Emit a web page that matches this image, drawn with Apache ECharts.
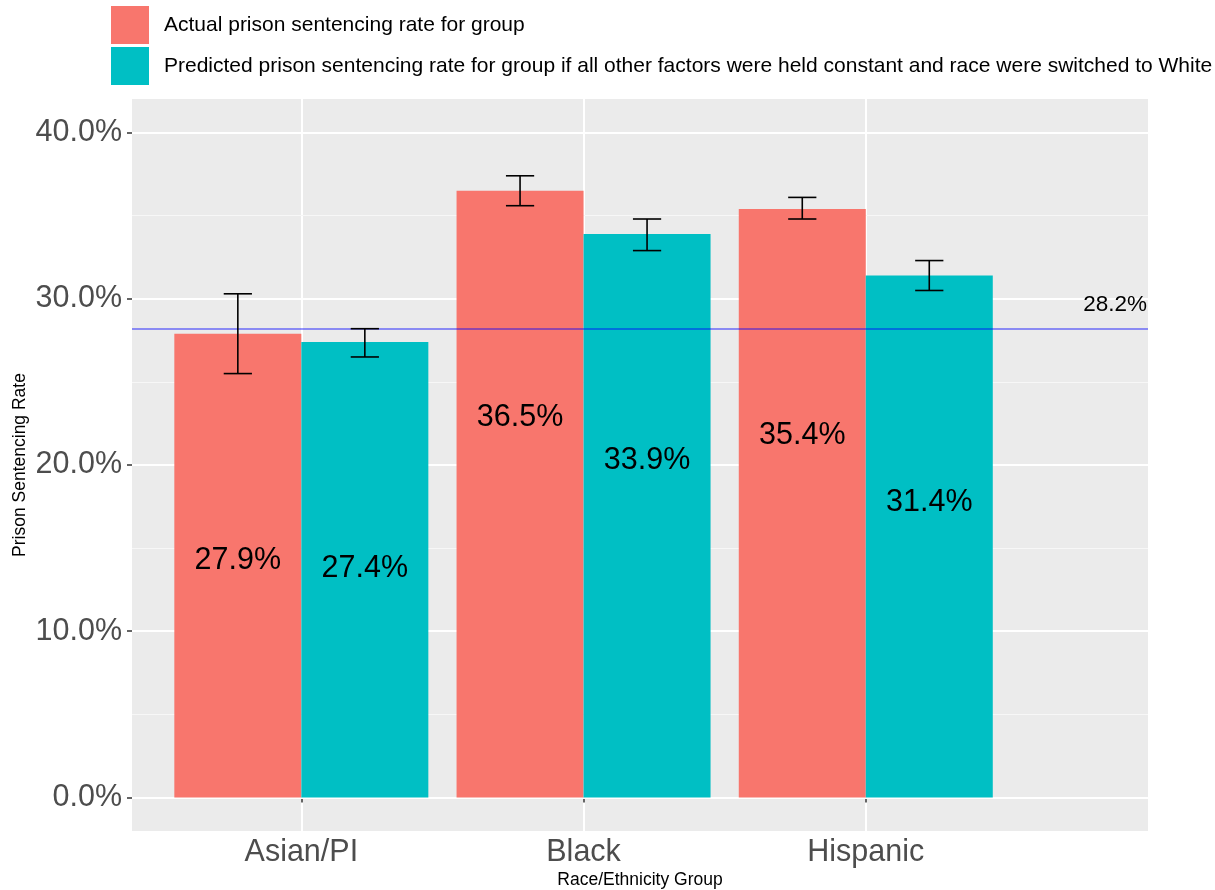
<!DOCTYPE html>
<html>
<head>
<meta charset="utf-8">
<title>Prison Sentencing Rate by Race/Ethnicity Group</title>
<script src="https://cdn.jsdelivr.net/npm/echarts@6/dist/echarts.min.js"></script>
<style>
  html, body { margin: 0; padding: 0; background: #ffffff; }
  #chart { width: 1215px; height: 890px; }
</style>
</head>
<body>
<div id="chart"></div>
<script>
// Groups on the horizontal axis
const CATEGORIES = ['Asian/PI', 'Black', 'Hispanic'];

// Series names (legend)
const SERIES_NAMES = [
  'Actual prison sentencing rate for group',
  'Predicted prison sentencing rate for group if all other factors were held constant and race were switched to White'
];

// Rates in percent
const ACTUAL = [27.9, 36.5, 35.4];
const PREDICTED = [27.4, 33.9, 31.4];

// Error bar bounds in percent
const ACTUAL_LOW = [25.5, 35.6, 34.8];
const ACTUAL_HIGH = [30.3, 37.4, 36.1];
const PREDICTED_LOW = [26.5, 32.9, 30.5];
const PREDICTED_HIGH = [28.2, 34.8, 32.3];

// Reference rate for White defendants
const WHITE_RATE = 28.2;

// Axis ticks
const Y_TICKS = [0, 10, 20, 30, 40];
const Y_MINOR = [5, 15, 25, 35];
const X_TICKS = [1, 2, 3];

// Layout / style constants
const COLORS = ['#F8766D', '#00BFC4'];
const GRID = { left: 132, top: 99, width: 1016, height: 732 };
const X_MIN = 0.4, X_MAX = 4.0;
const Y_MIN = -2.02, Y_MAX = 42.02;
const DODGE = 0.45;          // width of one bar, in x units
const WHISKER = 0.05;        // half whisker width, in x units
const LABEL_DROP = 13.65;    // value labels sit this far below the bar top
const PX_PER_UNIT = GRID.width / (X_MAX - X_MIN);
const BAR_W = Math.round(DODGE * PX_PER_UNIT);
const FONT = "'Liberation Sans', Arial, sans-serif";

const pct = v => v.toFixed(1) + '%';

// Error bar rows: [x position, low, high]; label rows: [x position, value]
const errorRows = [];
const labelRows = [];
CATEGORIES.forEach((c, i) => {
  const x = i + 1;
  errorRows.push([x - DODGE / 2, ACTUAL_LOW[i], ACTUAL_HIGH[i]]);
  errorRows.push([x + DODGE / 2, PREDICTED_LOW[i], PREDICTED_HIGH[i]]);
  labelRows.push([x - DODGE / 2, ACTUAL[i]]);
  labelRows.push([x + DODGE / 2, PREDICTED[i]]);
});

const chart = echarts.init(document.getElementById('chart'), null, { renderer: 'canvas' });

const option = {
  animation: false,
  backgroundColor: '#ffffff',
  textStyle: { fontFamily: FONT },
  legend: {
    orient: 'vertical',
    left: 111,
    top: 6,
    padding: 0,
    itemWidth: 38,
    itemHeight: 38,
    itemGap: 3,
    icon: 'rect',
    selectedMode: false,
    data: SERIES_NAMES,
    textStyle: { fontSize: 21, color: '#000000', fontFamily: FONT, padding: [3, 0, 0, 10] }
  },
  grid: {
    left: GRID.left, top: GRID.top, width: GRID.width, height: GRID.height,
    show: true, backgroundColor: '#EBEBEB', borderWidth: 0,
    containLabel: false, outerBoundsMode: 'none'
  },
  xAxis: {
    type: 'value',
    min: X_MIN,
    max: X_MAX,
    name: 'Race/Ethnicity Group',
    nameLocation: 'middle',
    nameGap: 40,
    nameMoveOverlap: false,
    nameTextStyle: { fontSize: 17.5, color: '#000000', fontFamily: FONT },
    axisLine: { show: false },
    axisTick: { show: true, length: 5, customValues: X_TICKS, lineStyle: { color: '#333333', width: 1.5 } },
    axisLabel: {
      customValues: X_TICKS,
      fontSize: 30.5, color: '#4D4D4D', margin: 6, fontFamily: FONT,
      formatter: v => CATEGORIES[Math.round(v) - 1]
    },
    splitLine: { show: true, lineStyle: { color: '#ffffff', width: 2 } }
  },
  yAxis: [
    {
      type: 'value',
      min: Y_MIN,
      max: Y_MAX,
      name: 'Prison Sentencing Rate',
      nameLocation: 'middle',
      nameGap: 103,
      nameRotate: 90,
      nameMoveOverlap: false,
      nameTextStyle: { fontSize: 17.5, color: '#000000', fontFamily: FONT },
      axisLine: { show: false },
      axisTick: { show: true, length: 5, customValues: Y_TICKS, lineStyle: { color: '#333333', width: 1.5 } },
      axisLabel: {
        customValues: Y_TICKS,
        fontSize: 30.5, color: '#4D4D4D', margin: 10, fontFamily: FONT,
        formatter: v => pct(v)
      },
      splitLine: { show: true, lineStyle: { color: '#ffffff', width: 2 } },
      z: 2
    },
    {
      type: 'value',
      min: Y_MIN,
      max: Y_MAX,
      axisLine: { show: false },
      axisTick: { show: false, customValues: Y_MINOR },
      axisLabel: { show: false, customValues: Y_MINOR },
      splitLine: { show: true, lineStyle: { color: '#F7F7F7', width: 1 } },
      z: 1
    }
  ],
  series: [
    {
      name: SERIES_NAMES[0],
      type: 'bar',
      barWidth: BAR_W,
      barGap: '0%',
      itemStyle: { color: COLORS[0] },
      data: CATEGORIES.map((c, i) => [i + 1, ACTUAL[i]]),
      z: 3
    },
    {
      name: SERIES_NAMES[1],
      type: 'bar',
      barWidth: BAR_W,
      barGap: '0%',
      itemStyle: { color: COLORS[1] },
      data: CATEGORIES.map((c, i) => [i + 1, PREDICTED[i]]),
      z: 3
    },
    {
      name: 'errorbars',
      type: 'custom',
      silent: true,
      z: 5,
      encode: { x: 0, y: [1, 2] },
      data: errorRows,
      renderItem: (params, api) => {
        const x = api.value(0);
        const top = api.coord([x, api.value(2)]);
        const bot = api.coord([x, api.value(1)]);
        const half = api.size([WHISKER, 0])[0];
        const style = { stroke: '#000000', lineWidth: 1.6 };
        return {
          type: 'group',
          children: [
            { type: 'line', shape: { x1: top[0], y1: top[1], x2: bot[0], y2: bot[1] }, style },
            { type: 'line', shape: { x1: top[0] - half, y1: top[1], x2: top[0] + half, y2: top[1] }, style },
            { type: 'line', shape: { x1: bot[0] - half, y1: bot[1], x2: bot[0] + half, y2: bot[1] }, style }
          ]
        };
      },
      markLine: {
        silent: true,
        symbol: ['none', 'none'],
        lineStyle: { color: 'rgba(0,0,255,0.55)', width: 1.5, type: 'solid' },
        label: {
          show: true,
          position: 'insideEndTop',
          distance: [1, 12],
          formatter: p => pct(p.value),
          fontSize: 22.5,
          color: '#000000',
          fontFamily: FONT
        },
        data: [{ yAxis: WHITE_RATE }]
      }
    },
    {
      name: 'valuelabels',
      type: 'custom',
      silent: true,
      z: 6,
      encode: { x: 0, y: 1 },
      data: labelRows,
      renderItem: (params, api) => {
        const v = api.value(1);
        const p = api.coord([api.value(0), v - LABEL_DROP]);
        return {
          type: 'text',
          x: p[0],
          y: p[1],
          style: {
            text: pct(v),
            fill: '#000000',
            font: '30.5px ' + FONT,
            align: 'center',
            verticalAlign: 'middle'
          }
        };
      }
    }
  ]
};

chart.setOption(option);
</script>
</body>
</html>
